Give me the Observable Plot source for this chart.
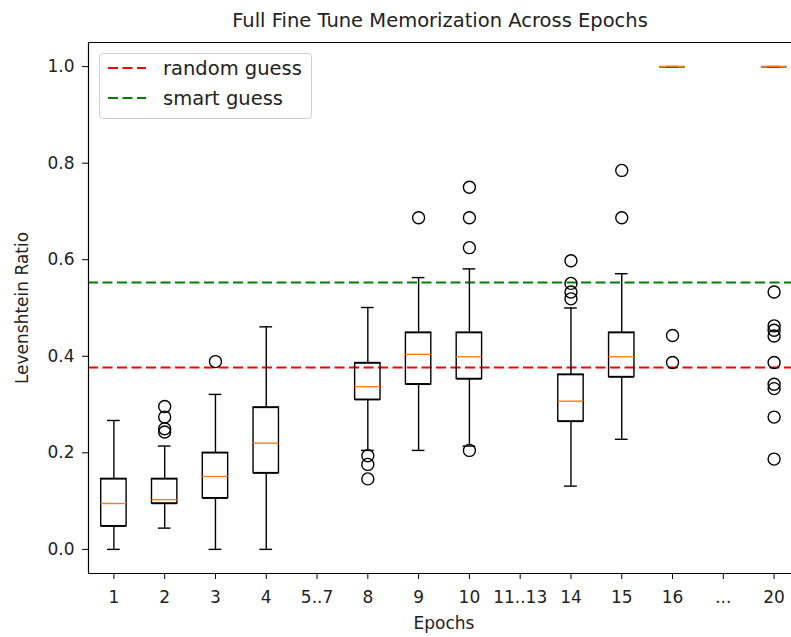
<!DOCTYPE html>
<html><head><meta charset="utf-8">
<script src="https://cdn.jsdelivr.net/npm/d3@7"></script>
<script src="https://cdn.jsdelivr.net/npm/@observablehq/plot@0.6"></script>
<style>
body{margin:0;overflow:hidden;background:#fff;font-family:"DejaVu Sans",sans-serif}
#wrap{position:relative;width:791px;height:637px;overflow:hidden}
#legend{position:absolute;left:99px;top:53px;width:211px;height:64px;border:1px solid #d0d0d0;border-radius:4px;background:rgba(255,255,255,0.8);font-size:19.5px;color:#222}
.row{position:absolute;left:0;height:22px;display:flex;align-items:center}
.row svg{margin-left:8px;margin-right:17px}
</style>
</head><body><div id="wrap"></div>
<script>
// ---- data ----
const tickLabels = ["1","2","3","4","5..7","8","9","10","11..13","14","15","16","...","20"];
const epochs = ["1","2","3","4","8","9","10","14","15","16","20"];
const whiskerLow  = [0.000, 0.044, 0.000, 0.000, 0.205, 0.205, 0.214, 0.131, 0.228, 1.0, 1.0];
const q1          = [0.048, 0.095, 0.106, 0.158, 0.310, 0.342, 0.353, 0.265, 0.357, 1.0, 1.0];
const median      = [0.095, 0.103, 0.151, 0.220, 0.337, 0.404, 0.399, 0.307, 0.399, 1.0, 1.0];
const q3          = [0.146, 0.146, 0.200, 0.294, 0.386, 0.449, 0.449, 0.362, 0.449, 1.0, 1.0];
const whiskerHigh = [0.267, 0.214, 0.321, 0.461, 0.501, 0.563, 0.581, 0.500, 0.571, 1.0, 1.0];
const outliers = [
  [],
  [0.296, 0.274, 0.250, 0.243],
  [0.389],
  [],
  [0.194, 0.176, 0.146],
  [0.687],
  [0.750, 0.687, 0.625, 0.205],
  [0.598, 0.551, 0.533, 0.519],
  [0.785, 0.687],
  [0.443, 0.387],
  [0.533, 0.463, 0.454, 0.442, 0.387, 0.342, 0.333, 0.274, 0.187]
];
const randomGuess = 0.377;
const smartGuess = 0.553;
const yTicks = [0.0, 0.2, 0.4, 0.6, 0.8, 1.0];

// ---- build tables ----
const stats = epochs.map((e, i) => ({
  pos: tickLabels.indexOf(e) + 1,
  lo: whiskerLow[i], q1: q1[i], med: median[i], q3: q3[i], hi: whiskerHigh[i]
}));
const fliers = epochs.flatMap((e, i) => outliers[i].map(v => ({pos: tickLabels.indexOf(e) + 1, v})));
const hw = 0.25, cw = 0.125;

const chart = Plot.plot({
  width: 791, height: 637,
  marginLeft: 88, marginRight: 0, marginTop: 42, marginBottom: 64,
  style: {fontFamily: "DejaVu Sans", fontSize: "17px", overflow: "hidden", background: "white", color: "#222"},
  x: {type: "linear", domain: [0.5, 14.5], range: [88, 799]},
  y: {domain: [-0.05, 1.05], range: [573, 42]},
  marks: [
    Plot.ruleY([randomGuess], {stroke: "red", strokeWidth: 2, strokeDasharray: "10,4.5"}),
    Plot.ruleY([smartGuess], {stroke: "green", strokeWidth: 2, strokeDasharray: "10,4.5"}),
    // whiskers
    Plot.ruleX(stats, {x: "pos", y1: "lo", y2: "q1", stroke: "black", strokeWidth: 1.4}),
    Plot.ruleX(stats, {x: "pos", y1: "q3", y2: "hi", stroke: "black", strokeWidth: 1.4}),
    // caps
    Plot.ruleY(stats, {y: "lo", x1: d => d.pos - cw, x2: d => d.pos + cw, stroke: "black", strokeWidth: 1.4}),
    Plot.ruleY(stats, {y: "hi", x1: d => d.pos - cw, x2: d => d.pos + cw, stroke: "black", strokeWidth: 1.4}),
    // boxes
    Plot.rect(stats, {x1: d => d.pos - hw, x2: d => d.pos + hw, y1: "q1", y2: "q3", fill: "none", stroke: "black", strokeWidth: 1.4, inset: 0}),
    Plot.ruleY(stats, {y: "q1", x1: d => d.pos - hw, x2: d => d.pos + hw, stroke: "black", strokeWidth: 1.4}),
    Plot.ruleY(stats, {y: "q3", x1: d => d.pos - hw, x2: d => d.pos + hw, stroke: "black", strokeWidth: 1.4}),
    // medians
    Plot.ruleY(stats, {y: "med", x1: d => d.pos - hw, x2: d => d.pos + hw, stroke: "#ff7f0e", strokeWidth: 1.4}),
    // fliers
    Plot.dot(fliers, {x: "pos", y: "v", r: 6, stroke: "black", fill: "none", strokeWidth: 1.4}),
    // frame (left, top, bottom spines)
    Plot.ruleX([0.5], {stroke: "black", strokeWidth: 1.2}),
    Plot.ruleY([-0.05, 1.05], {stroke: "black", strokeWidth: 1.2}),
    // axes
    Plot.axisY({ticks: yTicks, tickFormat: d3.format(".1f"), tickSize: 6, tickPadding: 8, label: null, fontSize: 17, stroke: "black"}),
    Plot.axisX({ticks: d3.range(1, 15), tickFormat: i => tickLabels[i - 1], tickSize: 6, tickPadding: 11, label: null, fontSize: 17, stroke: "black"}),
    // labels
    Plot.text(["Levenshtein Ratio"], {frameAnchor: "left", textAnchor: "middle", lineAnchor: "middle", dx: -66, rotate: -90, fontSize: 17, fill: "#222"}),
    Plot.text(["Epochs"], {frameAnchor: "bottom", lineAnchor: "middle", dx: 4, dy: 50, fontSize: 17, fill: "#222"}),
    Plot.text(["Full Fine Tune Memorization Across Epochs"], {frameAnchor: "top", lineAnchor: "middle", dy: -22, fontSize: 19.5, fill: "#222"})
  ]
});

const wrap = document.getElementById("wrap");
wrap.appendChild(chart);
const legendItems = [["random guess", "red"], ["smart guess", "green"]];
const lg = document.createElement("div");
lg.id = "legend";
legendItems.forEach(([name, color], i) => {
  const row = document.createElement("div");
  row.className = "row";
  row.style.top = (3 + i * 30) + "px";
  row.innerHTML = `<svg width="38" height="6"><line x1="0" y1="3" x2="38" y2="3" stroke="${color}" stroke-width="2" stroke-dasharray="10,4.5"/></svg><span>${name}</span>`;
  lg.appendChild(row);
});
wrap.appendChild(lg);
</script>
</body></html>
